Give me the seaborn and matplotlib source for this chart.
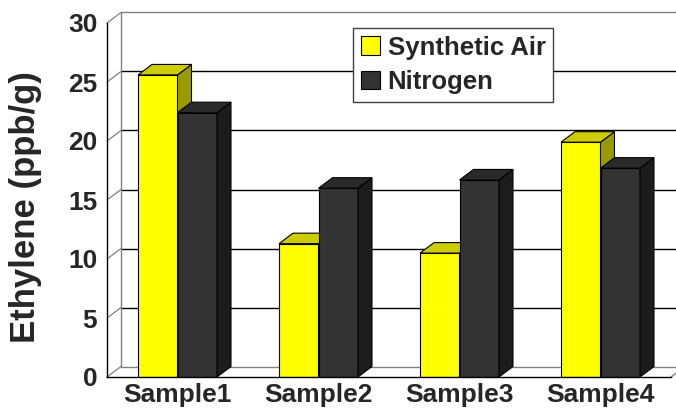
import matplotlib
matplotlib.use("Agg")
import matplotlib.pyplot as plt
from matplotlib.patches import Polygon
import seaborn as sns
import pandas as pd
import numpy as np

samples = ["Sample1", "Sample2", "Sample3", "Sample4"]
synthetic_air = [25.6, 11.3, 10.5, 19.9]
nitrogen = [22.4, 16.0, 16.7, 17.7]
series_names = ["Synthetic Air", "Nitrogen"]
y_ticks = [0, 5, 10, 15, 20, 25, 30]

df = pd.DataFrame({
    "Sample": samples * 2,
    "Value": synthetic_air + nitrogen,
    "Series": [series_names[0]] * 4 + [series_names[1]] * 4,
})

sns.set_style("white")
plt.rcParams["font.family"] = ["Liberation Sans", "DejaVu Sans"]
plt.rcParams["font.weight"] = "bold"

W, H = 676, 417
fig = plt.figure(figsize=(W / 100, H / 100), dpi=100)
ax_l, ax_r, ax_b, ax_t = 107, 671, 377, 23
ax = fig.add_axes([ax_l / W, (H - ax_b) / H, (ax_r - ax_l) / W, (ax_b - ax_t) / H])

front_cols = {"Synthetic Air": "#FFFF00", "Nitrogen": "#333333"}
top_cols = {"Synthetic Air": "#CCCC00", "Nitrogen": "#2A2A2A"}
side_cols = {"Synthetic Air": "#999900", "Nitrogen": "#1C1C1C"}

sns.barplot(data=df, x="Sample", y="Value", hue="Series", palette=front_cols,
            width=0.56, gap=0, edgecolor="black", linewidth=0.8, ax=ax,
            legend=True, saturation=1)

ax.set_xlim(-0.5, 3.5)
ax.set_ylim(0, 30)

# 3D depth offsets (pixels -> data)
px_x = (ax_r - ax_l) / 4.0
px_y = (ax_b - ax_t) / 30.0
dx = 14 / px_x
dy = 10.5 / px_y

# back wall & side lines
wall_c = "#808080"
x0 = -0.5 + dx
x1 = 3.5 + dx + 0.2
for v in y_ticks:
    ax.plot([x0, x1], [v + dy, v + dy], color="black" if v not in (0, 30) else wall_c,
            lw=1.0, zorder=0.5, clip_on=False)
    ax.plot([-0.5, x0], [v, v + dy], color=wall_c, lw=0.9, zorder=0.5, clip_on=False)
ax.plot([x0, x0], [dy, 30 + dy], color=wall_c, lw=1.0, zorder=0.5, clip_on=False)
ax.plot([3.5, 3.5 + dx], [0, dy], color=wall_c, lw=1.0, zorder=0.5, clip_on=False)

# 3D faces for bars
patches = sorted([p for p in ax.patches if p.get_height() > 0], key=lambda p: p.get_x())
hue_of = {}
for p in ax.patches:
    fc = tuple(np.round(p.get_facecolor()[:3], 2))
    hue_of[id(p)] = "Synthetic Air" if fc[0] > 0.9 else "Nitrogen"
for k, p in enumerate(patches):
    s = hue_of[id(p)]
    x, w, h = p.get_x(), p.get_width(), p.get_height()
    z = 2 + k * 0.1
    p.set_zorder(z)
    top = Polygon([[x, h], [x + w, h], [x + w + dx, h + dy], [x + dx, h + dy]],
                  closed=True, facecolor=top_cols[s], edgecolor="black", lw=0.8,
                  zorder=z, clip_on=False)
    side = Polygon([[x + w, 0], [x + w + dx, dy], [x + w + dx, h + dy], [x + w, h]],
                   closed=True, facecolor=side_cols[s], edgecolor="black", lw=0.8,
                   zorder=z, clip_on=False)
    ax.add_patch(side)
    ax.add_patch(top)

# axes styling
for sp in ["top", "right"]:
    ax.spines[sp].set_visible(False)
ax.spines["left"].set_color("black")
ax.spines["bottom"].set_color("black")
ax.spines["left"].set_linewidth(1.0)
ax.spines["bottom"].set_linewidth(1.0)
ax.spines["left"].set_zorder(10)
ax.spines["bottom"].set_zorder(10)

ax.set_yticks(y_ticks)
ax.set_yticklabels([str(v) for v in y_ticks], fontsize=19, fontweight="bold")
ax.tick_params(axis="y", direction="out", length=4, width=1, color="black", pad=3)
ax.set_xticks(range(4))
ax.set_xticklabels(samples, fontsize=19, fontweight="bold")
ax.tick_params(axis="x", which="major", length=0, pad=4)
ax.set_xticks([-0.5, 0.5, 1.5, 2.5, 3.5], minor=True)
ax.tick_params(axis="x", which="minor", direction="out", length=5, width=1, color="black")
ax.set_xlabel("")
ax.set_ylabel("")
ax.grid(False)
ax.patch.set_alpha(0)

fig.text(26 / W, 1 - 207 / H, "Ethylene (ppb/g)", rotation=90, ha="center", va="center",
         fontsize=25, fontweight="bold")

# legend
handles, labels = ax.get_legend_handles_labels()
leg = ax.legend(handles, labels, loc="upper left",
                bbox_to_anchor=(353 / W, 1 - 28 / H), bbox_transform=fig.transFigure,
                borderaxespad=0, frameon=True, fancybox=False, framealpha=1,
                edgecolor="#404040", handlelength=0.75, handleheight=0.75,
                handletextpad=0.3, labelspacing=0.4, borderpad=0.3,
                prop={"weight": "bold", "size": 18.5})
leg.get_frame().set_linewidth(1.0)
leg.set_zorder(20)
for h in leg.legend_handles:
    h.set_edgecolor("black")
    h.set_linewidth(0.8)

fig.savefig("out.png", dpi=100)
